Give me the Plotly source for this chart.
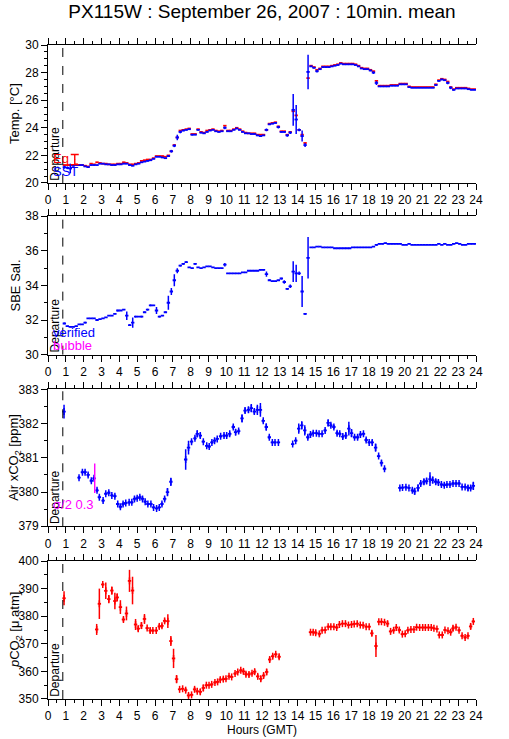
import plotly.graph_objects as go

# ---------------- DATA ----------------
# Panels 1 & 2: 10-minute bins, one row per hour (6 bins per hour)
sst = [
    [None, None, None, None, None, 21.15],
    [21.1, 21.05, 21.25, 21.3, 21.3, 21.3],
    [21.2, 21.15, 21.3, 21.3, 21.3, 21.4],
    [21.4, 21.35, 21.35, 21.3, 21.3, 21.35],
    [21.35, 21.4, 21.4, 21.3, 21.25, 21.35],
    [21.4, 21.5, 21.55, 21.6, 21.65, 21.75],
    [21.9, 21.9, 21.85, 21.8, 21.95, 22.3],
    [22.7, 23.3, 23.7, 23.8, 23.85, 23.9],
    [23.5, 23.5, 23.85, 23.65, 23.6, 23.7],
    [23.8, 23.85, 23.75, 23.7, 23.75, 24.0],
    [23.75, 23.75, 23.85, 23.95, 23.85, 23.7],
    [23.6, 23.6, 23.55, 23.55, 23.45, 23.4],
    [23.45, 23.85, 24.25, 24.3, 24.35, 24.05],
    [23.7, 23.7, 23.45, 23.65, 25.3, 24.6],
    [23.85, 23.4, 22.75, 28.05, 28.45, 28.35],
    [28.1, 28.25, 28.4, 28.4, 28.4, 28.45],
    [28.5, 28.55, 28.65, 28.6, 28.6, 28.6],
    [28.6, 28.55, 28.45, 28.3, 28.25, 28.25],
    [28.15, 28.0, 27.25, 27.0, 27.0, 27.0],
    [27.0, 27.05, 27.05, 27.05, 27.15, 27.15],
    [27.15, 26.95, 26.9, 26.9, 26.9, 26.9],
    [26.9, 26.9, 26.9, 26.9, 27.1, 27.4],
    [27.5, 27.45, 27.25, 26.9, 26.75, 26.85],
    [26.85, 26.85, 26.85, 26.8, 26.75, 26.75],
]
sst_err = [
    [0, 0, 0, 0, 0, 0.1],
    [0.1, 0.35, 0.05, 0, 0, 0],
    [0.05, 0.05, 0, 0, 0, 0],
    [0, 0, 0, 0, 0, 0],
    [0, 0, 0, 0, 0, 0],
    [0, 0, 0, 0, 0, 0],
    [0, 0, 0, 0, 0.05, 0.1],
    [0.1, 0.2, 0.1, 0.05, 0.05, 0.05],
    [0.05, 0, 0.05, 0.05, 0, 0],
    [0, 0, 0, 0, 0, 0.1],
    [0.05, 0, 0, 0.05, 0, 0],
    [0, 0, 0, 0, 0.05, 0.05],
    [0, 0.1, 0.05, 0, 0, 0.1],
    [0.05, 0.05, 0.1, 0.1, 1.15, 1.05],
    [0.1, 0.4, 0.15, 1.25, 0.05, 0.05],
    [0.1, 0.05, 0, 0, 0, 0],
    [0, 0, 0, 0, 0, 0],
    [0, 0, 0, 0, 0, 0],
    [0.05, 0.1, 0.15, 0, 0, 0],
    [0, 0, 0, 0, 0, 0],
    [0, 0, 0, 0, 0, 0],
    [0, 0, 0, 0, 0.05, 0.05],
    [0.05, 0, 0.1, 0.1, 0.05, 0],
    [0, 0, 0, 0, 0, 0],
]
eq_temp = [
    [None, None, None, None, None, 21.3],
    [21.3, 21.3, 21.3, 21.35, 21.3, 21.3],
    [21.25, 21.2, 21.4, 21.35, 21.5, 21.45],
    [21.4, 21.4, 21.35, 21.35, 21.35, 21.4],
    [21.4, 21.5, 21.45, 21.35, 21.35, 21.4],
    [21.45, 21.6, 21.65, 21.7, 21.7, 21.8],
    [21.95, 21.95, 21.95, 21.9, 22.0, 22.3],
    [22.75, 23.3, 23.8, 23.85, 23.9, 23.95],
    [23.55, 23.55, 23.9, 23.7, 23.65, 23.8],
    [23.85, 23.9, 23.8, 23.75, 23.8, 24.15],
    [23.8, 23.8, 23.9, 24.0, 23.9, 23.75],
    [23.65, 23.6, 23.6, 23.6, 23.5, 23.5],
    [23.5, 23.85, 24.3, 24.35, 24.4, 24.1],
    [23.75, 23.75, 23.5, 23.7, 25.2, 24.9],
    [23.85, 23.5, 22.9, 27.6, 28.5, 28.4],
    [28.2, 28.3, 28.45, 28.45, 28.45, 28.5],
    [28.55, 28.6, 28.7, 28.65, 28.65, 28.65],
    [28.65, 28.6, 28.5, 28.35, 28.3, 28.3],
    [28.2, 28.1, 27.4, 27.05, 27.05, 27.05],
    [27.05, 27.1, 27.1, 27.1, 27.2, 27.2],
    [27.2, 27.0, 26.95, 26.95, 26.95, 26.95],
    [26.95, 26.95, 26.95, 26.95, 27.15, 27.45],
    [27.55, 27.5, 27.35, 26.95, 26.8, 26.9],
    [26.9, 26.9, 26.9, 26.85, 26.8, 26.8],
]
sal = [
    [None, None, None, None, None, 31.8],
    [31.65, 31.6, 31.6, 31.65, 31.75, 31.75],
    [31.85, 32.1, 32.1, 32.1, 32.0, 32.05],
    [32.1, 32.15, 32.25, 32.25, 32.35, 32.55],
    [32.55, 32.6, 32.25, 31.7, 31.85, 32.2],
    [32.2, 32.2, 32.45, 32.6, 32.85, 32.85],
    [32.55, 32.2, 32.25, 32.45, 33.0, 33.65],
    [34.3, 34.85, 35.15, 35.25, 35.35, 35.05],
    [35.0, 35.25, 35.05, 35.0, 35.05, 35.1],
    [35.1, 35.05, 35.0, 35.0, 35.0, 35.2],
    [34.7, 34.7, 34.7, 34.7, 34.7, 34.75],
    [34.75, 34.85, 34.85, 34.85, 34.85, 34.9],
    [34.9, 34.65, 34.3, 34.25, 34.25, 34.3],
    [34.4, 34.2, 33.8, 33.95, 34.8, 34.7],
    [34.7, 33.65, 32.35, 35.6, 36.2, 36.2],
    [36.25, 36.25, 36.2, 36.2, 36.2, 36.2],
    [36.15, 36.15, 36.15, 36.15, 36.15, 36.15],
    [36.2, 36.2, 36.2, 36.2, 36.2, 36.2],
    [36.2, 36.25, 36.35, 36.4, 36.4, 36.45],
    [36.4, 36.4, 36.4, 36.4, 36.4, 36.35],
    [36.35, 36.4, 36.35, 36.35, 36.35, 36.35],
    [36.35, 36.35, 36.35, 36.35, 36.35, 36.4],
    [36.35, 36.4, 36.35, 36.35, 36.4, 36.45],
    [36.4, 36.35, 36.35, 36.4, 36.4, 36.4],
]
sal_err = [
    [0, 0, 0, 0, 0, 0.05],
    [0, 0, 0, 0, 0, 0],
    [0.05, 0, 0, 0, 0, 0],
    [0, 0, 0, 0, 0, 0.05],
    [0, 0, 0.25, 0.05, 0.3, 0.05],
    [0, 0.05, 0.05, 0.05, 0.05, 0],
    [0.2, 0.05, 0, 0.05, 0.4, 0.2],
    [0.35, 0.15, 0.05, 0.05, 0.05, 0],
    [0, 0.05, 0, 0, 0, 0],
    [0, 0, 0, 0, 0, 0.1],
    [0, 0, 0, 0, 0, 0],
    [0, 0, 0, 0, 0, 0],
    [0, 0.15, 0.05, 0, 0, 0],
    [0.05, 0.1, 0.05, 0.1, 0.6, 0.5],
    [0.1, 0.9, 0.05, 1.2, 0, 0],
    [0, 0, 0, 0, 0, 0],
    [0, 0, 0, 0, 0, 0],
    [0, 0, 0, 0, 0, 0],
    [0, 0, 0.05, 0, 0, 0],
    [0, 0, 0, 0, 0, 0],
    [0, 0, 0, 0, 0, 0],
    [0, 0, 0, 0, 0, 0],
    [0, 0, 0, 0, 0, 0],
    [0, 0, 0, 0, 0, 0],
]

# Panel 3: Air xCO2 (ppm)
xco2_h = [0.90, 1.74, 1.93, 2.08, 2.25, 2.43, 2.58, 2.75, 2.88, 3.09, 3.24, 3.41, 3.58, 3.75,
          3.91, 4.06, 4.21, 4.36, 4.55, 4.70, 4.85, 5.00, 5.15, 5.30, 5.45, 5.60, 5.77, 5.92,
          6.09, 6.24, 6.39, 6.54, 6.70, 6.89, 7.72, 7.88, 8.05, 8.24, 8.37, 8.54, 8.71, 8.90,
          9.04, 9.19, 9.34, 9.49, 9.68, 9.87, 10.02, 10.19, 10.39, 10.52, 10.69, 10.88, 11.05,
          11.24, 11.40, 11.57, 11.74, 11.91, 12.07, 12.24, 12.41, 12.58, 12.73, 12.92, 13.72,
          13.89, 14.06, 14.23, 14.40, 14.57, 14.72, 14.87, 15.05, 15.20, 15.37, 15.54, 15.71,
          15.86, 16.03, 16.21, 16.36, 16.53, 16.70, 16.87, 17.02, 17.19, 17.36, 17.52, 17.69,
          17.84, 18.01, 18.18, 18.37, 18.54, 18.70, 18.87, 19.73, 19.88, 20.07, 20.24, 20.43,
          20.56, 20.75, 20.90, 21.08, 21.23, 21.42, 21.57, 21.74, 21.89, 22.06, 22.22, 22.37,
          22.54, 22.71, 22.88, 23.05, 23.22, 23.39, 23.55, 23.70, 23.85]
xco2 = [382.35, 380.42, 380.58, 380.58, 380.5, 380.33, 380.4, 380.05, 379.85, 379.75, 379.95,
        379.98, 379.9, 379.88, 379.65, 379.57, 379.65, 379.68, 379.7, 379.7, 379.8, 379.82,
        379.85, 379.8, 379.72, 379.65, 379.65, 379.55, 379.52, 379.55, 379.65, 379.8, 380.0,
        380.3, 380.95, 381.3, 381.47, 381.57, 381.7, 381.65, 381.47, 381.35, 381.33, 381.45,
        381.5, 381.55, 381.63, 381.65, 381.65, 381.7, 381.9, 381.75, 381.78, 382.15, 382.38,
        382.4, 382.45, 382.35, 382.4, 382.4, 382.08, 381.9, 381.6, 381.45, 381.45, 381.45,
        381.4, 381.5, 381.85, 381.95, 381.8, 381.6, 381.68, 381.72, 381.72, 381.7, 381.7,
        381.8, 382.02, 381.95, 381.9, 381.72, 381.7, 381.62, 381.65, 381.85, 381.72, 381.6,
        381.6, 381.68, 381.7, 381.52, 381.45, 381.45, 381.3, 381.05, 380.85, 380.68, 380.12,
        380.13, 380.14, 380.12, 380.05, 380.02, 380.12, 380.25, 380.3, 380.32, 380.38, 380.35,
        380.3, 380.28, 380.22, 380.2, 380.22, 380.22, 380.25, 380.25, 380.25, 380.15, 380.15,
        380.12, 380.12, 380.18]
xco2_err = [0.2, 0.05, 0.05, 0.05, 0.05, 0.05, 0.05, 0.05, 0.05, 0.05, 0.04, 0.04, 0.04, 0.05,
            0.04, 0.06, 0.05, 0.04, 0.04, 0.04, 0.06, 0.05, 0.05, 0.06, 0.04, 0.04, 0.04, 0.04,
            0.04, 0.04, 0.05, 0.06, 0.12, 0.12, 0.3, 0.2, 0.05, 0.05, 0.1, 0.08, 0.04, 0.04,
            0.04, 0.05, 0.05, 0.04, 0.04, 0.05, 0.05, 0.06, 0.06, 0.08, 0.06, 0.12, 0.08,
            0.08, 0.12, 0.08, 0.15, 0.2, 0.05, 0.1, 0.05, 0.03, 0.03, 0.03, 0.03, 0.04, 0.15,
            0.12, 0.15, 0.06, 0.04, 0.05, 0.04, 0.04, 0.04, 0.05, 0.1, 0.06, 0.06, 0.06, 0.05,
            0.06, 0.08, 0.2, 0.12, 0.05, 0.06, 0.05, 0.05, 0.06, 0.04, 0.06, 0.12, 0.04, 0.07,
            0.04, 0.04, 0.04, 0.04, 0.03, 0.05, 0.1, 0.1, 0.06, 0.08, 0.08, 0.2, 0.1, 0.08,
            0.06, 0.05, 0.05, 0.04, 0.04, 0.04, 0.04, 0.04, 0.04, 0.04, 0.08, 0.06, 0.12]

# Panel 4: pCO2 (uatm)
pco2_h = [0.90, 2.73, 2.88, 3.07, 3.24, 3.41, 3.58, 3.75, 3.88, 4.06, 4.23, 4.40, 4.57, 4.74,
          4.91, 5.06, 5.24, 5.41, 5.56, 5.73, 5.88, 6.07, 6.24, 6.39, 6.54, 6.72, 6.89, 7.04,
          7.21, 7.38, 7.55, 7.72, 7.88, 8.05, 8.22, 8.37, 8.54, 8.71, 8.88, 9.03, 9.18, 9.36,
          9.51, 9.66, 9.83, 9.98, 10.15, 10.30, 10.49, 10.64, 10.81, 10.96, 11.10, 11.27,
          11.44, 11.59, 11.76, 11.93, 12.09, 12.26, 12.43, 12.60, 12.77, 12.96, 14.72, 14.87,
          15.01, 15.22, 15.37, 15.54, 15.71, 15.86, 16.03, 16.19, 16.34, 16.51, 16.68, 16.85,
          17.02, 17.17, 17.34, 17.51, 17.67, 17.84, 18.01, 18.16, 18.39, 18.55, 18.70, 18.87,
          19.04, 19.21, 19.38, 19.53, 19.70, 19.87, 20.03, 20.18, 20.35, 20.52, 20.67, 20.84,
          21.01, 21.16, 21.33, 21.49, 21.64, 21.81, 21.94, 22.11, 22.26, 22.43, 22.58, 22.71,
          22.88, 23.05, 23.22, 23.39, 23.55, 23.70, 23.85]
pco2 = [386.5, 375.2, 384.5, 391.5, 389.2, 386.2, 389.3, 385.5, 386.8, 383.3, 378.8, 381.0,
        392.8, 389.3, 377.0, 375.5, 376.6, 379.0, 375.7, 374.8, 374.8, 374.8, 376.3, 376.5,
        378.3, 378.2, 371.0, 364.7, 357.2, 353.5, 353.7, 353.2, 351.3, 351.5, 353.5, 352.8,
        352.6, 354.0, 355.0, 355.0, 355.3, 356.0, 356.2, 357.0, 357.2, 357.3, 358.2, 358.0,
        359.2, 359.8, 360.4, 360.0, 359.0, 358.9, 359.3, 359.9, 358.2, 357.3, 358.5, 359.8,
        364.3, 365.5, 366.2, 365.3, 374.2, 374.2, 374.0, 373.6, 374.9, 375.0, 376.2, 376.2,
        376.2, 375.9, 377.0, 377.3, 377.3, 376.8, 377.0, 377.2, 377.3, 376.8, 376.7, 376.2,
        376.2, 373.8, 369.2, 378.0, 378.0, 377.8, 377.3, 374.5, 374.9, 375.9, 375.0, 373.5,
        373.6, 374.9, 375.2, 375.2, 376.0, 375.9, 375.9, 375.9, 375.9, 375.9, 375.6, 375.4,
        373.2, 373.2, 375.0, 374.7, 374.2, 375.6, 376.0, 374.9, 372.9, 372.3, 372.9, 376.3,
        378.1]
pco2_err = [2.5, 2.0, 5.5, 0.5, 3.0, 1.5, 1.5, 3.0, 1.5, 2.5, 0.8, 2.5, 4.0, 5.0, 2.0, 1.0,
            1.2, 1.8, 0.5, 1.0, 0.5, 0.5, 0.8, 0.8, 0.8, 2.5, 1.8, 3.5, 1.5, 0.3, 0.3, 0.8,
            0.8, 0.5, 0.8, 0.5, 1.0, 1.2, 0.5, 0.3, 0.5, 0.5, 0.5, 0.8, 0.8, 0.5, 0.5, 0.3,
            0.5, 0.5, 0.5, 0.8, 0.8, 0.8, 0.5, 0.8, 0.8, 1.0, 0.8, 1.0, 1.0, 0.8, 0.5, 0.8,
            0.4, 0.5, 0.8, 0.8, 0.4, 0.4, 0.3, 0.3, 0.3, 0.4, 0.3, 0.3, 0.3, 0.4, 0.3, 0.3,
            0.3, 0.3, 0.3, 0.3, 0.3, 1.0, 4.0, 0.3, 0.3, 0.3, 1.0, 0.5, 0.5, 0.5, 0.8, 0.5,
            0.5, 0.5, 0.3, 0.3, 0.3, 0.3, 0.3, 0.3, 0.3, 0.3, 0.3, 0.3, 0.5, 0.5, 0.3, 0.3,
            0.5, 1.0, 0.5, 0.5, 0.5, 0.5, 0.5, 1.0, 0.5]

# reference bars (scale markers) drawn in panels 1 and 3
temp_bar_h, temp_bar_v, temp_bar_e = [1.5], [21.7], [0.37]
xco2_bar_h, xco2_bar_v, xco2_bar_e = [2.62], [380.4], [0.43]

departure_h = 0.83
half_bin = 0.095

# ---------------- FIGURE ----------------
grid_h = [h + (k + 0.5) / 6 for h in range(24) for k in range(6)]


def flat(rows):
    return [v for r in rows for v in r]


BLUE = "#0000ff"
RED = "#ff0000"
MAG = "#ff00ff"
FONT = "Liberation Sans, Arial, sans-serif"

fig = go.Figure()


def add_series(x, y, err, color, xa, ya, cross=False):
    marker = dict(size=1, color=color)
    if cross:
        marker = dict(symbol="line-ns", size=5, color=color, line=dict(color=color, width=1.5))
    fig.add_trace(go.Scatter(
        x=x, y=y, mode="markers", xaxis=xa, yaxis=ya,
        marker=marker,
        error_x=dict(type="constant", value=half_bin, color=color, thickness=1.8, width=0),
        error_y=dict(type="data", array=err, color=color, thickness=1.5, width=0),
        showlegend=False, hoverinfo="skip"))


add_series(grid_h, flat(eq_temp), [0] * 144, RED, "x", "y")
add_series(grid_h, flat(sst), flat(sst_err), BLUE, "x", "y")
add_series(grid_h, flat(sal), flat(sal_err), BLUE, "x2", "y2")
add_series(xco2_h, xco2, xco2_err, BLUE, "x3", "y3", cross=True)
add_series(pco2_h, pco2, pco2_err, RED, "x4", "y4", cross=True)

fig.add_trace(go.Scatter(
    x=temp_bar_h, y=temp_bar_v, mode="markers", xaxis="x", yaxis="y",
    marker=dict(size=1, color=RED),
    error_y=dict(type="data", array=temp_bar_e, color=RED, thickness=1.4, width=4),
    showlegend=False, hoverinfo="skip"))
fig.add_trace(go.Scatter(
    x=xco2_bar_h, y=xco2_bar_v, mode="markers", xaxis="x3", yaxis="y3",
    marker=dict(size=1, color=MAG),
    error_y=dict(type="data", array=xco2_bar_e, color=MAG, thickness=1.4, width=0),
    showlegend=False, hoverinfo="skip"))

# panel geometry
domains = [[0.789, 1.0], [0.5266, 0.7381], [0.2641, 0.4735], [0.0, 0.211]]
ranges = [[20, 30], [30, 38], [379, 383], [350, 400]]
dticks = [2, 2, 1, 10]
minors = [0.5, 1, 0.5, 5]
titles = ["Temp. [°C]", "SBE Sal.", "Air xCO<sub>2</sub> [ppm]", "<i>p</i>CO<sub>2</sub> [μ atm]"]

tickfont = dict(family=FONT, size=12, color="black")
layout = dict(
    width=509, height=739,
    margin=dict(l=48, r=33, t=45, b=40),
    paper_bgcolor="white", plot_bgcolor="white",
    font=dict(family=FONT, size=12, color="black"),
    showlegend=False,
    title=dict(text="PX115W : September 26, 2007 : 10min. mean",
               x=0.5, xref="paper", xanchor="center", y=0.984, yanchor="middle",
               font=dict(family=FONT, size=19, color="black")),
)

annotations = []
shapes = []
for i in range(4):
    n = "" if i == 0 else str(i + 1)
    layout["xaxis" + n] = dict(
        domain=[0, 1], anchor="y" + n, range=[0, 24], dtick=1, tick0=0,
        ticks="outside", ticklen=6, tickwidth=1, tickcolor="black",
        showline=True, linecolor="black", linewidth=1, mirror="ticks",
        showgrid=False, zeroline=False, tickfont=tickfont, automargin=False,
        minor=dict(dtick=0.5, tick0=0, ticks="outside", ticklen=3, tickcolor="black", showgrid=False),
    )
    common_y = dict(
        range=ranges[i], dtick=dticks[i], tick0=ranges[i][0],
        ticks="outside", ticklen=6, tickwidth=1, tickcolor="black",
        showline=True, linecolor="black", linewidth=1,
        showgrid=False, zeroline=False, tickfont=tickfont, automargin=False,
        minor=dict(dtick=minors[i], tick0=ranges[i][0], ticks="outside", ticklen=3,
                   tickcolor="black", showgrid=False),
    )
    layout["yaxis" + n] = dict(domain=domains[i], anchor="x" + n, side="left", **common_y)
    layout["yaxis" + str(i + 5)] = dict(overlaying="y" + n, anchor="x" + n, side="right", **common_y)

    # y title
    annotations.append(dict(
        text=titles[i], xref="paper", yref="paper", x=-0.077,
        y=(domains[i][0] + domains[i][1]) / 2, xanchor="center", yanchor="middle",
        textangle=-90, showarrow=False, font=dict(family=FONT, size=13, color="black")))
    # departure line + label
    shapes.append(dict(type="line", xref="x" + n, yref="y" + n + " domain",
                       x0=departure_h, x1=departure_h, y0=0, y1=1,
                       line=dict(color="black", width=1, dash="dash")))
    annotations.append(dict(
        text="Departure", xref="x" + n, yref="y" + n + " domain", x=departure_h, y=0,
        xanchor="right", yanchor="bottom", textangle=-90, showarrow=False,
        xshift=1, font=dict(family=FONT, size=12, color="black")))

# legend-like labels inside panels
annotations += [
    dict(text="Eq", xref="x", yref="y", x=0.15, y=21.8, xanchor="left", yanchor="middle",
         showarrow=False, font=dict(family=FONT, size=13, color=RED)),
    dict(text="SST", xref="x", yref="y", x=0.15, y=20.85, xanchor="left", yanchor="middle",
         showarrow=False, font=dict(family=FONT, size=13, color=BLUE)),
    dict(text="verified", xref="x2", yref="y2", x=0.15, y=31.3, xanchor="left", yanchor="middle",
         showarrow=False, font=dict(family=FONT, size=13, color=BLUE)),
    dict(text="bubble", xref="x2", yref="y2", x=0.15, y=30.55, xanchor="left", yanchor="middle",
         showarrow=False, font=dict(family=FONT, size=13, color=MAG)),
    dict(text="σ/2 0.3", xref="x3", yref="y3", x=0.15, y=379.64, xanchor="left", yanchor="middle",
         showarrow=False, font=dict(family=FONT, size=13, color=MAG)),
    dict(text="Hours (GMT)", xref="paper", yref="paper", x=0.5, y=-0.048,
         xanchor="center", yanchor="middle", showarrow=False,
         font=dict(family=FONT, size=12, color="black")),
]

layout["annotations"] = annotations
layout["shapes"] = shapes
fig.update_layout(**layout)

fig.write_html("out.html", config={"displayModeBar": False},
               post_script="document.body.style.margin='0';")
